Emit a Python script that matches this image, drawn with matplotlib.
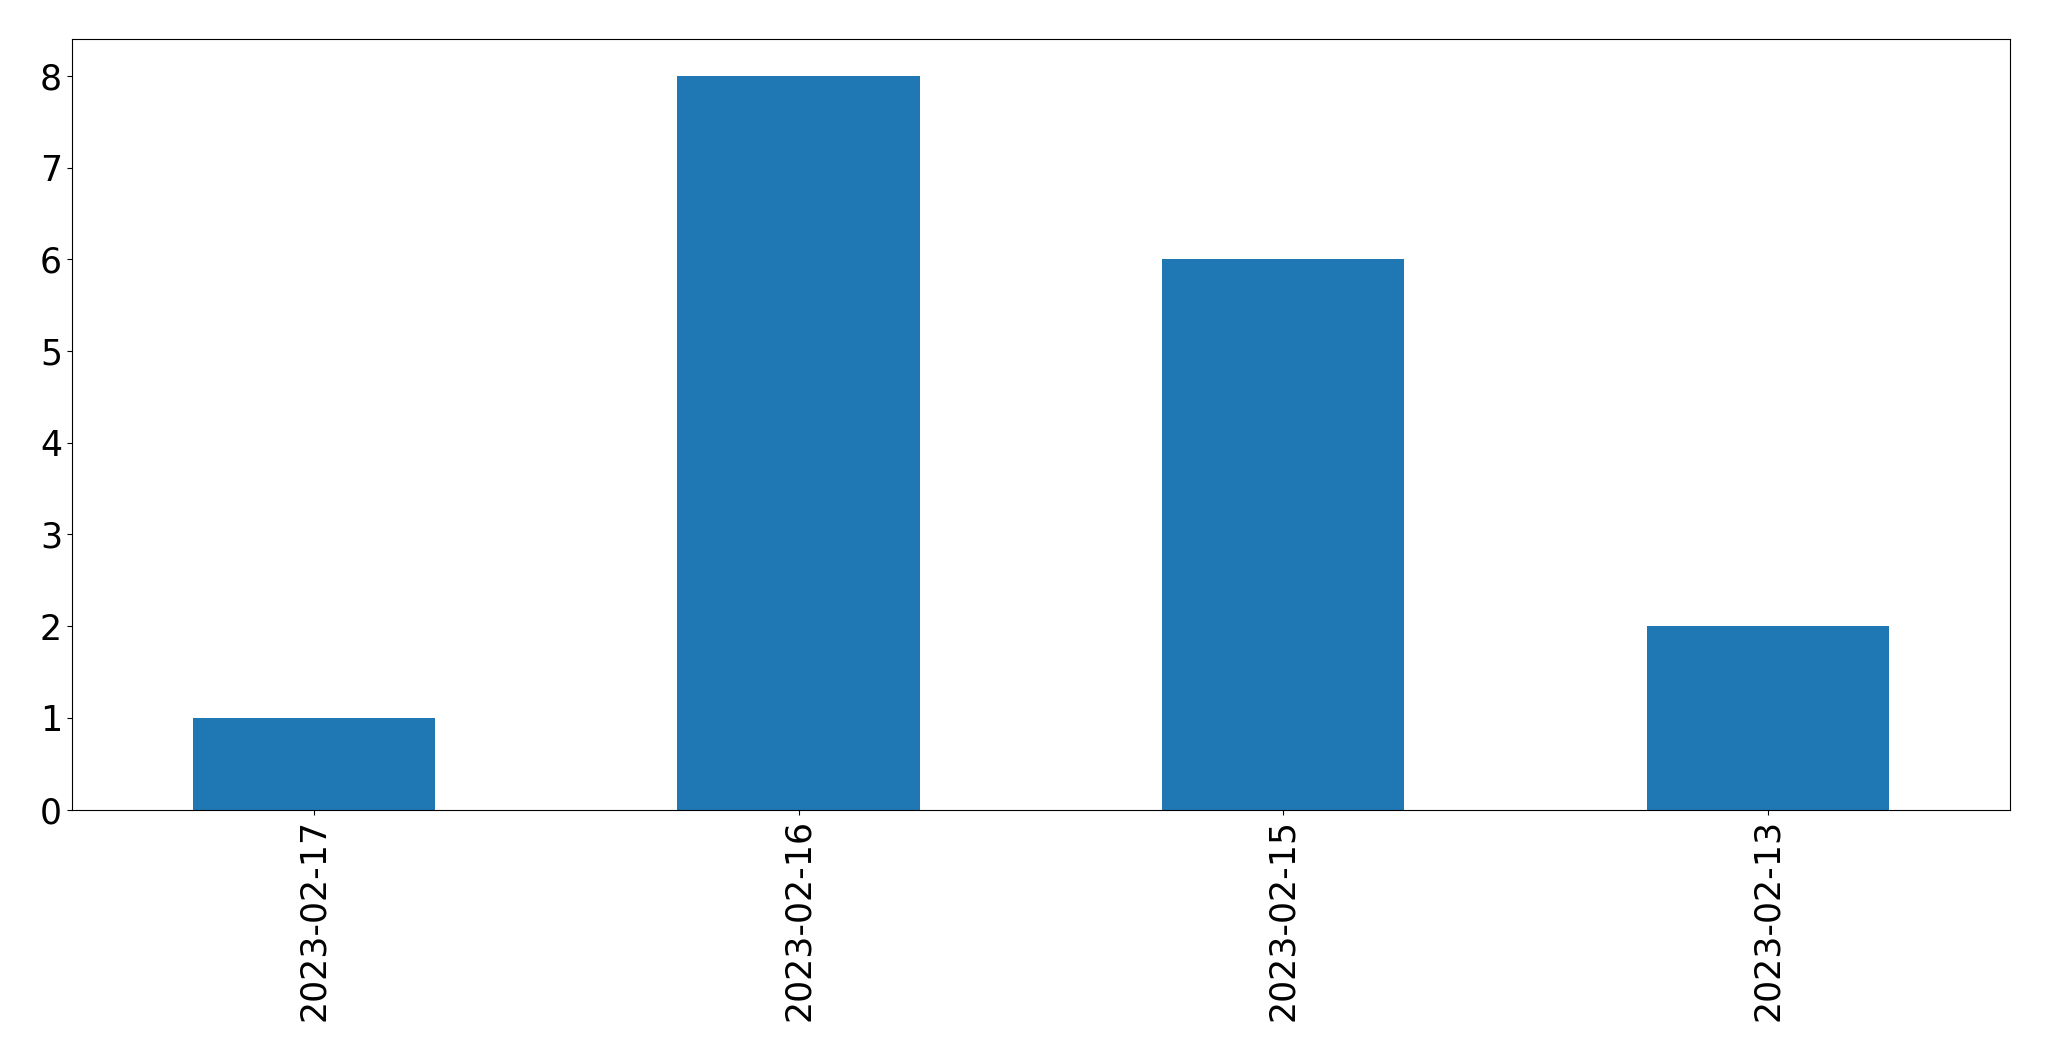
import matplotlib
matplotlib.use("Agg")
import matplotlib.pyplot as plt
import pandas as pd

dates = ["2023-02-17", "2023-02-16", "2023-02-15", "2023-02-13"]
counts = [1, 8, 6, 2]

s = pd.Series(counts, index=dates)

fig = plt.figure(figsize=(20.49, 10.61), dpi=100)
ax = fig.add_axes([0.035, 0.237, 0.946, 0.726])
s.plot(kind="bar", ax=ax, fontsize=25)
ax.set_xlabel("")
fig.savefig("out.png", dpi=100)
